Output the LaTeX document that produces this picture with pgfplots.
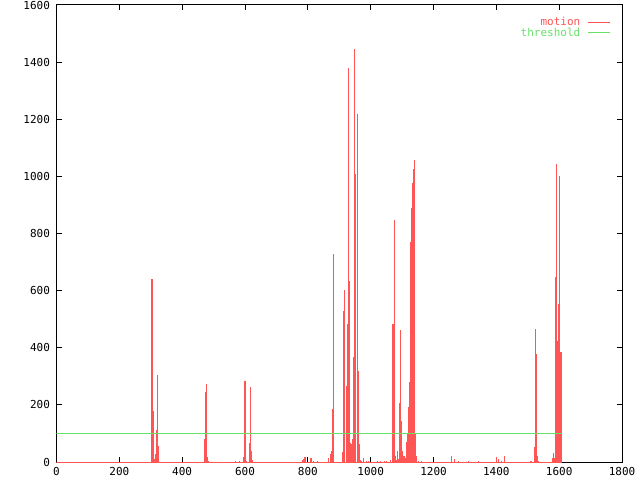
\documentclass[border=0pt]{standalone}
\usepackage{pgfplots}
\pgfplotsset{compat=1.18}
\usepackage{fontspec}
\setmonofont{DejaVu Sans Mono}
\definecolor{motion}{HTML}{FF5555}
\definecolor{thresh}{HTML}{66E066}

\begin{document}
\begin{tikzpicture}[x=1pt,y=1pt]
\path[use as bounding box] (0,0) rectangle (640,480);
\begin{axis}[
    at={(56.5pt,18pt)}, anchor=south west,
    scale only axis, width=565.5pt, height=457pt,
    xmin=0, xmax=1800, ymin=0, ymax=1600,
    xtick={0,200,...,1800}, ytick={0,200,...,1600},
    tick align=inside, major tick length=5pt,
    tick style={black, line width=1pt},
    axis line style={black, line width=1pt},
    scaled ticks=false,
    /pgf/number format/assume math mode=true,
    /pgf/number format/1000 sep={},
    tick label style={font=\fontsize{11}{12}\selectfont\ttfamily},
    xticklabel style={yshift=-1.5pt},
    yticklabel style={xshift=-3pt},
    legend style={draw=none, fill=none, at={(axis description cs:1,1)},
      anchor=north east, xshift=-8pt, yshift=-10pt,
      font=\fontsize{11}{12}\selectfont\ttfamily, column sep=7pt,
      row sep=0pt, nodes={inner sep=0.5pt, text height=8pt, text depth=1.5pt}},
    legend cell align=right,
    legend plot pos=right,
]
% motion impulses
\addplot[ycomb, motion, line width=1.05pt,
  legend image code/.code={\draw[motion, line width=1pt] (0pt,0pt) -- (22pt,0pt);}]
  coordinates {
  (301,56) (304,641) (306.5,255) (310,178) (313,10) (316,28) (319,112) (322,305) (325,56)
  (470,80) (473,245) (476,273) (480,17) (485,3)
  (571,3) (581,3) (594,17) (597,122) (600,284) (602,70) (606,5)
  (613,66) (616,262) (619,203) (622,38) (625,7)
  (783,8) (786,12) (791,17) (807,12) (810,15) (813,8) (819,5) (831,4)
  (867,13) (871,28) (874,38) (877,129) (880,185) (883,728)
  (912,35) (915,529) (918,602) (922,266) (925,483) (928,1380) (930,1365)
  (933,634) (936,66) (938,63) (941,80) (944,283) (947,367) (950,1446)
  (953,1008) (957,1218) (960,318) (963,63) (966,7) (971,5) (976,14)
  (986,5) (993,5) (1021,4) (1031,4) (1043,5) (1051,4) (1062,8)
  (1071,483) (1074.5,847) (1077,515) (1079.5,21) (1082.5,7) (1086,38) (1089,10)
  (1093,207) (1096,462) (1099,143) (1102,38) (1105.5,21) (1109,21) (1112,14)
  (1115,70) (1118,101) (1121.5,193) (1124,280) (1126.5,770) (1129,889)
  (1132,977) (1135,1026) (1138,1057) (1141.5,100) (1145,20) (1151,5) (1161,4)
  (1257,21) (1266,10) (1280,4) (1310,5) (1344,5)
  (1401,17) (1407,10) (1416,4) (1425,21) (1508,5)
  (1511,3) (1521,52) (1524,466) (1526.5,378) (1529.5,21) (1533,3)
  (1578,14) (1581,31) (1584,14) (1587.5,647) (1591,1043) (1594,423)
  (1597,553) (1599,553) (1601.5,1001) (1605,385) (1607,385)
  };
\addlegendentry{\textcolor{motion}{motion}}
\addplot[motion, line width=1pt, forget plot] coordinates {(0,0) (1609,0)};
% threshold
\addplot[thresh, line width=1pt,
  legend image code/.code={\draw[thresh, line width=1pt] (0pt,0pt) -- (22pt,0pt);}]
  coordinates {(0,100) (1609,100)};
\addlegendentry{\textcolor{thresh}{threshold}}
\end{axis}
\end{tikzpicture}
\end{document}
